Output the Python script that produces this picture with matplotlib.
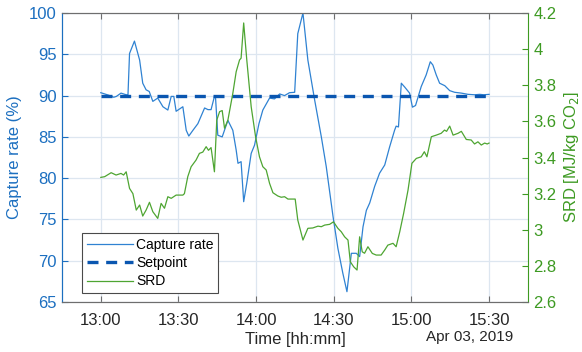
#!/usr/bin/env python3
# -*- coding: utf-8 -*-
"""
Capture rate and specific reboiler duty (SRD) during the step test of Apr 03, 2019.
"""

import numpy as np
import pandas as pd
import matplotlib
matplotlib.use("Agg")
import matplotlib.pyplot as plt
import matplotlib.dates as mdates


# =============================================================================
# Data (minutes after 13:00)

day = pd.Timestamp("2019-04-03 13:00")

capture_min = [0, 1.5, 3, 5, 6, 7.8, 9.8, 10.5, 11.1, 13.0, 15.0, 16.2, 17.5, 18.7,
               20.1, 22.0, 24.0, 25.9, 27.2, 28.2, 29.1, 31.7, 33.0, 34.0, 35.6,
               37.5, 40.1, 41.4, 42.6, 43.9, 44.3, 45.2, 46.9, 49.1, 51.0, 52.3,
               53.0, 54.2, 55.2, 56.4, 58.1, 59.4, 61.1, 62.6, 65.2, 67.1, 69.1,
               71.0, 72.9, 74.9, 76.1, 78.1, 80.0, 82.6, 85.2, 87.1, 89.7, 91.6,
               93.5, 95.1, 96.8, 98.7, 100.0, 101.3, 102.6, 103.9, 105.8, 107.7,
               109.7, 111.6, 113.5, 114.1, 115.0, 116.1, 117.5, 119.3, 120.4,
               121.6, 123.8, 125.7, 127.3, 128.3, 129.6, 130.9, 132.9, 134.8,
               136.7, 139.3, 141.9, 144.4, 146.4, 148.0, 150.0]
capture_rate = [90.35, 90.2, 90.05, 89.8, 89.9, 90.3, 90.1, 90.1, 95.1, 96.6, 94.3,
                91.5, 90.7, 90.5, 89.3, 89.7, 88.65, 88.25, 89.9, 89.9, 88.1,
                88.65, 85.8, 85.1, 85.8, 86.6, 88.5, 88.3, 88.3, 89.9, 89.9, 85.2,
                85.0, 87.0, 85.8, 83.4, 81.8, 82.0, 77.15, 79.4, 83.0, 84.0, 86.6,
                88.25, 89.7, 89.6, 90.2, 90.0, 90.35, 90.4, 97.5, 100.0, 94.3,
                89.5, 85.0, 81.4, 75.4, 71.5, 68.5, 66.25, 70.9, 70.9, 70.5, 74.1,
                76.1, 77.0, 79.0, 80.6, 81.6, 83.8, 85.8, 86.3, 86.2, 91.5, 91.0,
                90.3, 88.6, 88.8, 91.1, 92.5, 94.1, 93.7, 92.5, 91.5, 91.2, 90.6,
                90.4, 90.3, 90.15, 90.1, 90.15, 90.1, 90.15]

setpoint_min = [0, 150]
setpoint = [90, 90]

srd_min = [0, 1.5, 4.0, 5.9, 7.8, 8.8, 9.8, 11.1, 12.4, 13.7, 15.0, 16.2, 17.5,
           18.8, 20.1, 22.0, 23.3, 24.6, 25.9, 27.2, 29.1, 31.7, 32.3, 33.6,
           34.9, 36.8, 38.1, 39.4, 40.7, 41.6, 42.6, 43.9, 44.8, 45.9, 46.9,
           47.8, 49.1, 51.0, 52.3, 53.6, 54.2, 55.2, 56.4, 58.1, 59.8, 61.3,
           62.6, 63.9, 65.2, 66.5, 68.4, 69.7, 71.0, 72.3, 74.2, 75.1, 76.1,
           78.1, 80.0, 81.9, 83.9, 85.2, 86.5, 88.4, 89.9, 91.6, 92.9, 94.2,
           95.5, 96.4, 97.7, 99.0, 100.0, 101.0, 101.9, 103.2, 104.9, 106.4,
           108.3, 109.7, 110.9, 112.9, 114.1, 115.5, 117.0, 118.7, 120.2,
           121.9, 123.8, 125.0, 126.0, 127.7, 129.6, 131.5, 132.8, 133.6,
           134.8, 136.1, 138.0, 139.3, 141.2, 143.1, 144.4, 145.7, 147.0,
           148.3, 149.3, 150.0]
srd = [3.29, 3.294, 3.316, 3.303, 3.312, 3.303, 3.321, 3.229, 3.20, 3.109, 3.137,
       3.076, 3.109, 3.152, 3.10, 3.063, 3.146, 3.119, 3.183, 3.174, 3.192,
       3.192, 3.20, 3.294, 3.349, 3.386, 3.423, 3.43, 3.46, 3.44, 3.455, 3.321,
       3.607, 3.654, 3.66, 3.562, 3.607, 3.755, 3.875, 3.94, 3.95, 4.145, 3.94,
       3.681, 3.515, 3.404, 3.349, 3.331, 3.257, 3.205, 3.187, 3.18, 3.183,
       3.17, 3.17, 3.17, 3.054, 2.943, 3.008, 3.01, 3.02, 3.017, 3.026, 3.03,
       3.044, 3.008, 2.989, 2.961, 2.943, 2.823, 2.795, 2.777, 2.961, 2.878,
       2.87, 2.906, 2.869, 2.86, 2.86, 2.888, 2.915, 2.925, 2.906, 2.989,
       3.091, 3.22, 3.368, 3.395, 3.404, 3.432, 3.404, 3.515, 3.524, 3.534,
       3.552, 3.545, 3.574, 3.524, 3.534, 3.545, 3.50, 3.497, 3.475, 3.487,
       3.469, 3.48, 3.475, 3.48]

left_ticks = [65, 70, 75, 80, 85, 90, 95, 100]
right_ticks = [2.6, 2.8, 3.0, 3.2, 3.4, 3.6, 3.8, 4.0, 4.2]
right_labels = ["2.6", "2.8", "3", "3.2", "3.4", "3.6", "3.8", "4", "4.2"]


def to_time(minutes):
    return day + pd.to_timedelta(np.asarray(minutes, dtype=float), unit="min")


# =============================================================================
# Plot

c_capture = "#2f82d2"
c_setpoint = "#0a56b0"
c_srd = "#4ea532"
c_left = "#1c6fc0"
c_right = "#3d9a22"
c_frame = "#6e6e6e"

plt.rcParams["font.family"] = ["Liberation Sans", "DejaVu Sans"]
plt.rcParams["font.size"] = 12

fig = plt.figure(figsize=(5.82, 3.52), dpi=100)
ax = fig.add_axes([0.1065, 0.142, 0.8005, 0.821])
ax2 = ax.twinx()

l_cap, = ax.plot(to_time(capture_min), capture_rate, color=c_capture, lw=0.9,
                 label="Capture rate")
l_set, = ax.plot(to_time(setpoint_min), setpoint, color=c_setpoint, lw=2.4,
                 dashes=(3.3, 2.3), label="Setpoint")
l_srd, = ax2.plot(to_time(srd_min), srd, color=c_srd, lw=0.9, label="SRD")

ax.set_xlim(day - pd.Timedelta(minutes=15), day + pd.Timedelta(minutes=165))
ax.set_ylim(65, 100)
ax2.set_ylim(2.6, 4.2)
ax.set_yticks(left_ticks)
ax2.set_yticks(right_ticks)
ax2.set_yticklabels(right_labels)

ax.xaxis.set_major_locator(mdates.MinuteLocator(byminute=[0, 30]))
ax.xaxis.set_major_formatter(mdates.DateFormatter("%H:%M"))

ax.grid(True, color="#dde6f0", lw=0.9)
ax.set_axisbelow(True)

ax.tick_params(axis="x", direction="in", top=True, colors="#262626",
               color=c_frame, length=4, pad=8, labelsize=12)
ax.tick_params(axis="y", direction="in", colors=c_left, length=4, pad=4,
               labelsize=12)
ax2.tick_params(axis="y", direction="in", colors=c_right, length=4, pad=4,
                labelsize=12)

for side in ["top", "bottom"]:
    ax2.spines[side].set_color(c_frame)
    ax.spines[side].set_color(c_frame)
ax2.spines["left"].set_color(c_left)
ax2.spines["right"].set_color(c_right)
ax.spines["left"].set_color(c_left)
ax.spines["right"].set_visible(False)

ax.set_ylabel("Capture rate (%)", color=c_left, fontsize=12, labelpad=5)
ax2.set_ylabel("SRD [MJ/kg CO$_2$]", color=c_right, fontsize=12, labelpad=4)
ax.set_xlabel("Time [hh:mm]", color="#262626", fontsize=12, labelpad=3)
fig.text(0.807, 0.03, "Apr 03, 2019", ha="center", va="baseline",
         color="#262626", fontsize=11)

leg = ax2.legend([l_cap, l_set, l_srd], ["Capture rate", "Setpoint", "SRD"],
                 loc="lower left", bbox_to_anchor=(0.044, 0.03), fancybox=False,
                 framealpha=1, edgecolor="#4a4a4a", handlelength=3.3,
                 handletextpad=0.2, borderpad=0.35, labelspacing=0.3,
                 borderaxespad=0.0, fontsize=10)
leg.get_frame().set_linewidth(0.8)

fig.savefig("out.png", dpi=100)
